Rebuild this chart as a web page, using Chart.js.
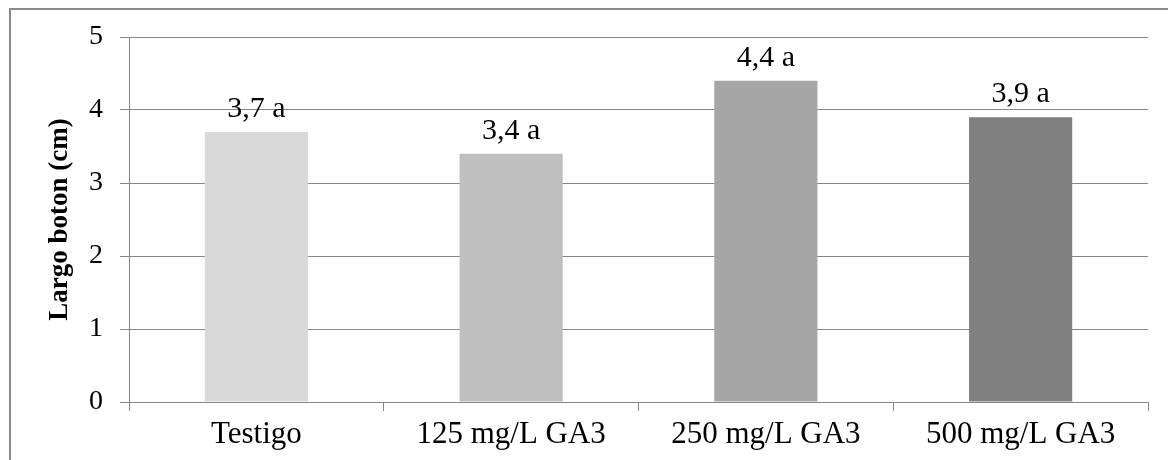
<!DOCTYPE html>
<html>
<head>
<meta charset="utf-8">
<script src="https://cdn.jsdelivr.net/npm/chart.js@4/dist/chart.umd.min.js"></script>
<style>
  html, body { margin: 0; padding: 0; background: #fff; overflow: hidden; }
  #wrap { position: relative; width: 1168px; height: 460px; }
</style>
</head>
<body>
<div id="wrap"><canvas id="chart"></canvas></div>
<script>
// data
const categories = ['Testigo', '125 mg/L GA3', '250 mg/L GA3', '500 mg/L GA3'];
const largoBoton = [3.7, 3.4, 4.4, 3.9];
const letters = ['a', 'a', 'a', 'a'];
const yTicks = [0, 1, 2, 3, 4, 5];

const barColors = ['#d9d9d9', '#bfbfbf', '#a6a6a6', '#808080'];
const gridColor = '#868686';
const serif = "'Liberation Serif', 'Times New Roman', serif";

// labels above the bars, "3,7 a" style
const barLabels = {
    id: 'barLabels',
    afterDatasetsDraw(chart) {
        const ctx = chart.ctx;
        const meta = chart.getDatasetMeta(0);
        ctx.save();
        ctx.font = '30px ' + serif;
        ctx.fillStyle = '#000';
        ctx.textAlign = 'center';
        ctx.textBaseline = 'alphabetic';
        meta.data.forEach((bar, i) => {
            const txt = largoBoton[i].toFixed(1).replace('.', ',') + ' ' + letters[i];
            ctx.fillText(txt, bar.x, bar.y - 15);
        });
        ctx.restore();
    }
};

// outer frame of the chart
const frame = {
    id: 'frame',
    beforeDraw(chart) {
        const ctx = chart.ctx;
        ctx.save();
        ctx.strokeStyle = '#8a8a8a';
        ctx.lineWidth = 2;
        ctx.strokeRect(10, 9, 1300, 600);
        ctx.restore();
    }
};

new Chart(document.getElementById('chart'), {
    type: 'bar',
    data: {
        labels: categories,
        datasets: [{
            data: largoBoton,
            backgroundColor: barColors,
            borderWidth: 0,
            barPercentage: 0.405,
            categoryPercentage: 1
        }]
    },
    options: {
        responsive: true,
        maintainAspectRatio: false,
        animation: false,
        layout: { padding: { top: 37, right: 20, left: 0, bottom: 0 } },
        plugins: {
            legend: { display: false },
            tooltip: { enabled: false }
        },
        scales: {
            x: {
                afterFit: (s) => { s.height = 58; },
                grid: {
                    offset: true,
                    drawOnChartArea: false,
                    color: gridColor,
                    tickLength: 9
                },
                border: { color: gridColor },
                ticks: {
                    color: '#000',
                    font: { family: serif, size: 31 },
                    padding: 5
                }
            },
            y: {
                min: yTicks[0],
                max: yTicks[yTicks.length - 1],
                afterFit: (s) => { s.width = 129; },
                afterBuildTicks: (s) => { s.ticks = yTicks.map(v => ({ value: v })); },
                grid: { color: gridColor, tickLength: 9 },
                border: { color: gridColor },
                ticks: {
                    color: '#000',
                    font: { family: serif, size: 28 },
                    padding: 17
                },
                title: {
                    display: true,
                    text: 'Largo boton (cm)',
                    color: '#000',
                    font: { family: serif, size: 27, weight: 'bold' },
                    padding: { top: 44 }
                }
            }
        }
    },
    plugins: [frame, barLabels]
});
</script>
</body>
</html>
